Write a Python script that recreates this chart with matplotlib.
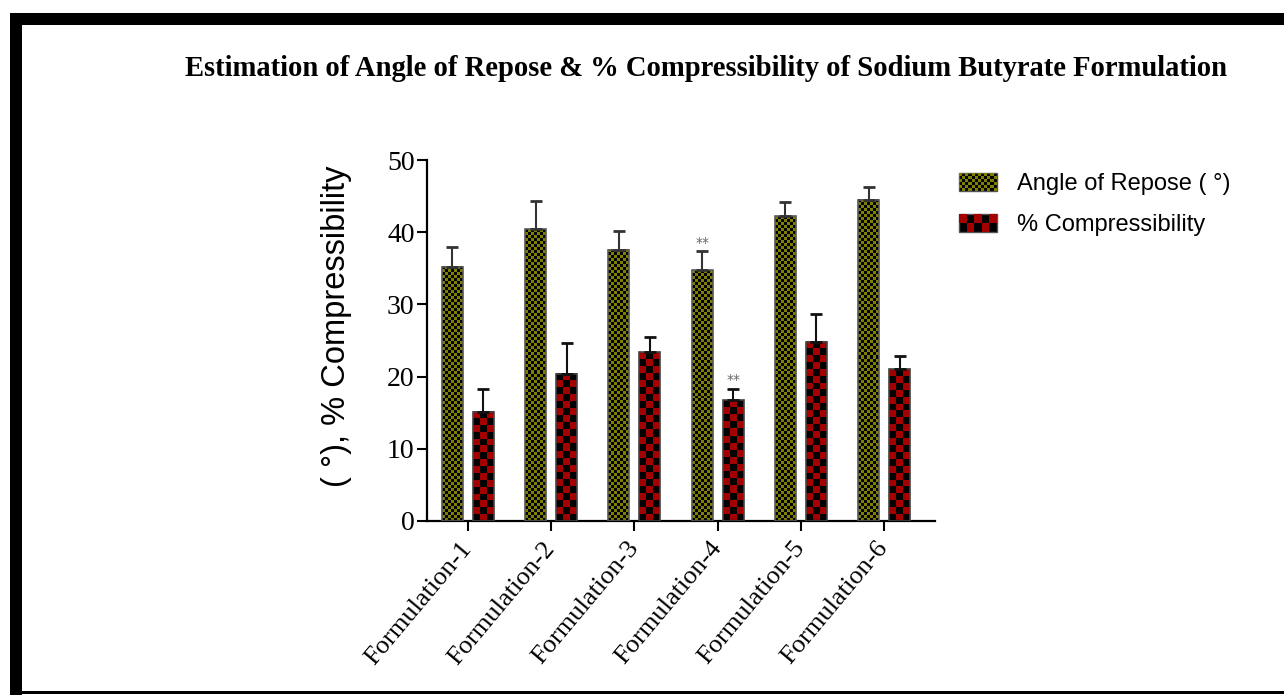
import numpy as np
import matplotlib
matplotlib.use("Agg")
import matplotlib.pyplot as plt
from matplotlib.patches import Rectangle
from matplotlib.legend_handler import HandlerBase

categories = ["Formulation-1", "Formulation-2", "Formulation-3",
              "Formulation-4", "Formulation-5", "Formulation-6"]
angle = [35.2, 40.4, 37.6, 34.7, 42.2, 44.5]
angle_err = [2.7, 3.9, 2.6, 2.7, 2.0, 1.8]
compress = [15.1, 20.4, 23.4, 16.7, 24.8, 21.0]
compress_err = [3.2, 4.3, 2.1, 1.6, 3.9, 1.8]
signif = ["", "", "", "**", "", ""]

OLIVE = "#7f7f00"
RED = "#a40000"
W, H = 1284, 695


def px_rect(x0, y0, x1, y1, color):
    # rectangle in figure pixels (y from top)
    return Rectangle((x0 / W, 1 - y1 / H), (x1 - x0) / W, (y1 - y0) / H,
                     transform=fig.transFigure, facecolor=color,
                     edgecolor="none", zorder=10)


class CheckerHandler(HandlerBase):
    def __init__(self, color, nx, ny):
        super().__init__()
        self.color, self.nx, self.ny = color, nx, ny

    def create_artists(self, legend, orig_handle, xdescent, ydescent,
                       width, height, fontsize, trans):
        x0, y0 = -xdescent, -ydescent
        arts = [Rectangle((x0, y0), width, height, facecolor="black",
                          edgecolor="#555555", lw=1, transform=trans)]
        cw, ch = width / self.nx, height / self.ny
        for i in range(self.nx):
            for j in range(self.ny):
                if (i + j) % 2:
                    arts.append(Rectangle((x0 + i * cw, y0 + j * ch), cw, ch,
                                          facecolor=self.color, edgecolor="none",
                                          transform=trans))
        return arts


fig = plt.figure(figsize=(W / 100, H / 100), dpi=100)
ax = fig.add_axes([427 / W, 1 - 521 / H, (935 - 427) / W, (521 - 160) / H])

x = np.arange(len(categories))
off, bw = 0.186, 0.252
b1 = ax.bar(x - off, angle, bw, facecolor="none", edgecolor="#5a5a5a",
            lw=1.2, zorder=3)
b2 = ax.bar(x + off, compress, bw, facecolor="none", edgecolor="#444444",
            lw=1.2, zorder=3)
ax.errorbar(x - off, angle, yerr=[np.zeros(6), angle_err], fmt="none",
            ecolor="#333333", elinewidth=1.5, capsize=4.5, capthick=2, zorder=4)
ax.errorbar(x + off, compress, yerr=[np.zeros(6), compress_err], fmt="none",
            ecolor="#111111", elinewidth=1.5, capsize=4.5, capthick=2, zorder=4)

ax.set_xlim(-0.49, 5.61)
ax.set_ylim(0, 50)

# checkerboard fill for each bar
for bars, col, cell in [(b1, OLIVE, 3.0), (b2, RED, 7.0)]:
    rgb = np.array(matplotlib.colors.to_rgb(col))
    for r in bars:
        x0, w, h = r.get_x(), r.get_width(), r.get_height()
        p0 = ax.transData.transform((x0, 0))
        p1 = ax.transData.transform((x0 + w, h))
        nx = max(1, int(round((p1[0] - p0[0]) / cell)))
        ny = max(1, int(round((p1[1] - p0[1]) / cell)))
        ii, jj = np.meshgrid(np.arange(nx), np.arange(ny))
        mask = ((ii + jj) % 2).astype(bool)
        img = np.zeros((ny, nx, 3))
        img[mask] = rgb
        ax.imshow(img, extent=(x0, x0 + w, 0, h), origin="lower",
                  interpolation="nearest", aspect="auto", zorder=2)

for i, s in enumerate(signif):
    if s:
        ax.text(x[i] - off, angle[i] + angle_err[i] + 0.2, s, ha="center",
                va="bottom", fontsize=10, color="#666666", family="DejaVu Sans")
        ax.text(x[i] + off, compress[i] + compress_err[i] + 0.2, s, ha="center",
                va="bottom", fontsize=10, color="#666666", family="DejaVu Sans")

ax.set_xlim(-0.49, 5.61)
ax.set_ylim(0, 50)
ax.set_yticks([0, 10, 20, 30, 40, 50])
ax.set_xticks(x)
ax.set_xticklabels(categories, rotation=50, ha="right", va="center",
                   rotation_mode="anchor", family="Liberation Serif", fontsize=19)
for lab in ax.get_yticklabels():
    lab.set_family("Liberation Serif")
    lab.set_fontsize(20)
ax.spines["top"].set_visible(False)
ax.spines["right"].set_visible(False)
ax.spines["left"].set_linewidth(1.6)
ax.spines["bottom"].set_linewidth(1.6)
ax.tick_params(axis="y", length=7, width=1.5, pad=2)
ax.tick_params(axis="x", length=7, width=1.5, pad=10)

ax.set_ylabel("( °), % Compressibility", family="Liberation Sans",
              fontsize=23.5, labelpad=25)
ax.yaxis.label.set_y(0.54)

fig.text(706 / W, 1 - 68 / H,
         "Estimation of Angle of Repose & % Compressibility of Sodium Butyrate Formulation",
         ha="center", va="center", family="Liberation Serif", weight="bold",
         fontsize=20.6)

h1 = Rectangle((0, 0), 1, 1)
h2 = Rectangle((0, 0), 1, 1)
fig.legend([h1, h2], ["Angle of Repose ( °)", "% Compressibility"],
           handler_map={h1: CheckerHandler(OLIVE, 12, 6),
                        h2: CheckerHandler(RED, 5, 2)},
           loc="upper left", bbox_to_anchor=(959 / W, 1 - 173 / H),
           frameon=False, borderpad=0, borderaxespad=0,
           prop={"family": "Liberation Sans", "size": 17},
           handlelength=1.6, handleheight=0.8, handletextpad=0.85,
           labelspacing=0.8)

# page frame
for r in [(10, 13, 19.5, H), (10, 13, W, 21.5), (20.5, 22.5, 22.5, H),
          (20.5, 22.5, W, 24.5), (20.5, 690.5, W, 693.5)]:
    fig.add_artist(px_rect(*r, "black"))

fig.savefig("out.png", dpi=100)
